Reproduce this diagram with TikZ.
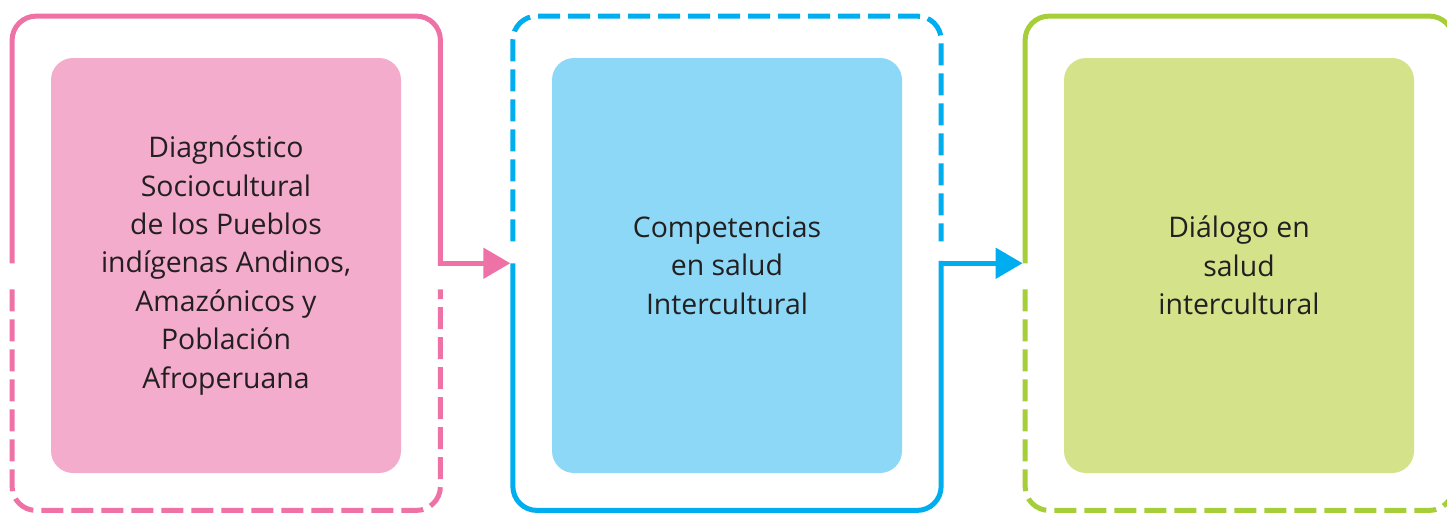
\documentclass[tikz,border=0pt]{standalone}
\usepackage{fontspec}
\setmainfont{Open Sans}
\usetikzlibrary{arrows.meta}

\definecolor{pinkline}{HTML}{EF72A7}
\definecolor{pinkfill}{HTML}{F3ACCC}
\definecolor{blueline}{HTML}{00AEEF}
\definecolor{bluefill}{HTML}{8DD8F6}
\definecolor{greenline}{HTML}{A6CE39}
\definecolor{greenfill}{HTML}{D4E38A}
\definecolor{textdark}{HTML}{231F20}

\begin{document}
\begin{tikzpicture}[x=0.5pt, y=-0.5pt,
                    frame/.style={rectangle, draw=none, inner sep=0pt,
                                  minimum width=213.75pt, minimum height=246.75pt},
                    panel/.style={rectangle, rounded corners=11pt, inner sep=0pt,
                                  minimum width=175pt, minimum height=207.5pt, align=center,
                                  text=textdark, font=\fontsize{14.2}{19.2}\selectfont},
                    border/.style={line width=2.5pt, rounded corners=12pt},
                    gaps/.style={border, dash pattern=on 11pt off 4pt},
                    link/.style={line width=2.5pt, shorten >=1.25pt,
                                 -{Triangle[length=13.5pt, width=15pt]}}]

    \useasboundingbox (0,0) rectangle (1447,515);

    % Outer frames
    \node[frame] (f1) at (226.25,263.25) {}; % Diagnostico
    \node[frame] (f2) at (727,263.25) {}; % Competencias
    \node[frame] (f3) at (1239.25,263.25) {}; % Dialogo

    % Coloured panels
    \node[panel, fill=pinkfill] (diag) at (226,265.5) {Diagnóstico\\Sociocultural\\de los Pueblos\\indígenas Andinos,\\Amazónicos y\\Población\\Afroperuana};
    \node[panel, fill=bluefill] (comp) at (727,265.5) {Competencias\\en salud\\Intercultural};
    \node[panel, fill=greenfill] (dial) at (1239,265.5) {Diálogo en\\salud\\intercultural};

    % Borders
    \draw[border, pinkline] (f1.west) |- (f1.north) -| ([yshift=-1.25pt]f1.east);
    \draw[gaps, pinkline] ([yshift=-13pt]f1.west) |- (f1.south) -| ([yshift=-13pt]f1.east);

    \draw[gaps, blueline] ([yshift=11pt]f2.west) |- (f2.north) -| ([yshift=11pt]f2.east);
    \draw[border, blueline] (f2.west) |- (f2.south) -| ([yshift=1.25pt]f2.east);

    \draw[border, greenline] (f3.west) |- (f3.north) -| (f3.east);
    \draw[gaps, greenline] ([yshift=-13pt]f3.west) |- (f3.south) -| ([yshift=-13pt]f3.east);

    % Links
    \draw[link, pinkline] (f1.east) -- (f2.west);
    \draw[link, blueline] (f2.east) -- (f3.west);
\end{tikzpicture}
\end{document}
